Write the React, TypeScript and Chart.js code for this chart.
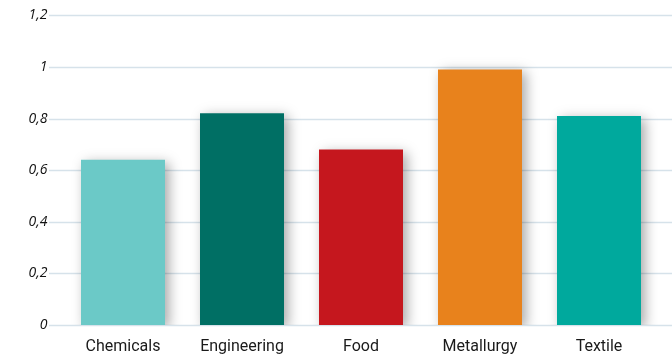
import React, { useEffect, useRef } from "react";
import { Chart, registerables } from "chart.js";

Chart.register(...registerables);

const categories = ["Chemicals", "Engineering", "Food", "Metallurgy", "Textile"];
const values = [0.64, 0.82, 0.68, 0.99, 0.81];
const barColors = ["#6bc9c7", "#006f64", "#c5171e", "#e8821c", "#00a99d"];
const yTicks = [0, 0.2, 0.4, 0.6, 0.8, 1, 1.2];

// Gridlines spanning from just right of the tick labels to the canvas edge
const wideGrid = {
  id: "wideGrid",
  beforeDatasetsDraw(chart: any) {
    const { ctx, scales } = chart;
    const y = scales.y;
    ctx.save();
    ctx.strokeStyle = "#d6e2ea";
    ctx.lineWidth = 1.5;
    yTicks.forEach((t) => {
      const py = Math.round(y.getPixelForValue(t)) + 0.5;
      ctx.beginPath();
      ctx.moveTo(49, py);
      ctx.lineTo(chart.width, py);
      ctx.stroke();
    });
    ctx.restore();
  },
};

// Soft drop shadow behind every bar
const barShadow = {
  id: "barShadow",
  beforeDatasetDraw(chart: any) {
    const ctx = chart.ctx;
    ctx.save();
    ctx.shadowColor = "rgba(0,0,0,0.35)";
    ctx.shadowBlur = 12;
    ctx.shadowOffsetX = 4;
    ctx.shadowOffsetY = 3;
  },
  afterDatasetDraw(chart: any) {
    chart.ctx.restore();
  },
};

export default function App() {
  const ref = useRef<HTMLCanvasElement | null>(null);

  useEffect(() => {
    document.body.style.margin = "0";
    if (!ref.current) return;
    const chart = new Chart(ref.current, {
      type: "bar",
      data: {
        labels: categories,
        datasets: [
          {
            data: values,
            backgroundColor: barColors,
            borderWidth: 0,
            categoryPercentage: 1,
            barPercentage: 0.706,
          },
        ],
      },
      options: {
        animation: false,
        responsive: false,
        maintainAspectRatio: false,
        layout: { padding: { top: 15.3, right: 13.5, left: 0, bottom: 0 } },
        plugins: { legend: { display: false }, tooltip: { enabled: false } },
        scales: {
          x: {
            grid: { display: false, drawTicks: false },
            border: { display: false },
            ticks: {
              color: "#1a1a1a",
              padding: 12,
              font: { family: "Roboto", size: 16 },
            },
            afterFit(scale: any) {
              scale.height = 31;
              scale.paddingLeft = 0;
              scale.paddingRight = 0;
            },
          },
          y: {
            min: 0,
            max: 1.2,
            grid: { display: false, drawTicks: false },
            border: { display: false },
            ticks: {
              stepSize: 0.2,
              padding: 16,
              color: "#111111",
              font: { family: "Open Sans", size: 14, style: "italic" },
              callback: (v: any) => {
                const n = Math.round(Number(v) * 10) / 10;
                return String(n).replace(".", ",");
              },
            },
            afterFit(scale: any) {
              scale.width = 63.5;
              scale.paddingTop = 0;
              scale.paddingBottom = 0;
            },
          },
        },
      },
      plugins: [wideGrid, barShadow],
    });
    return () => chart.destroy();
  }, []);

  return (
    <div style={{ position: "absolute", left: 0, top: 0, width: 672, height: 356, background: "#fff" }}>
      <canvas ref={ref} width={672} height={356} />
    </div>
  );
}
